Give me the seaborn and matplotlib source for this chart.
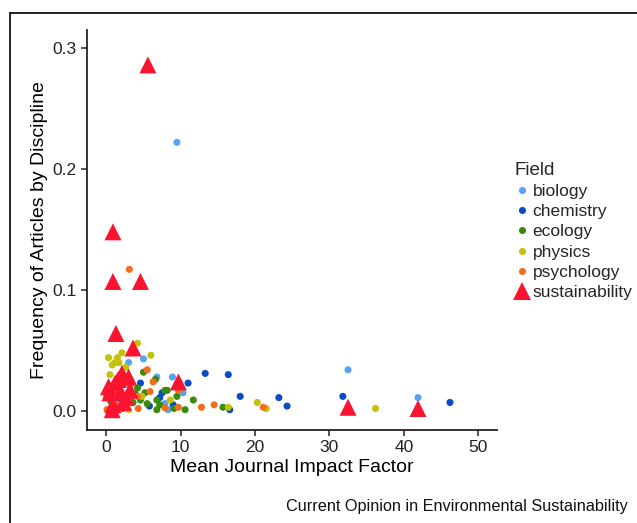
import numpy as np
import pandas as pd
import seaborn as sns
import matplotlib.pyplot as plt
from matplotlib.lines import Line2D

# ============================================================
# DATA
# ============================================================

biology_x = [9.5, 3.0, 5.0, 6.8, 8.9, 10.3, 8.3, 0.3, 32.5, 41.9, 7.9, 2.5, 1.0]
biology_y = [0.222, 0.040, 0.043, 0.028, 0.028, 0.015, 0.001, 0.017, 0.034, 0.011, 0.006, 0.022, 0.008]

chemistry_x = [13.3, 16.4, 18.0, 16.6, 23.2, 24.3, 31.8, 46.2, 4.6, 11.0, 7.5, 7.2, 0.1, 5.8, 2.0, 9.0]
chemistry_y = [0.031, 0.030, 0.012, 0.001, 0.011, 0.004, 0.012, 0.007, 0.023, 0.023, 0.015, 0.011, 0.012, 0.004, 0.010, 0.005]

ecology_x = [15.7, 5.0, 6.6, 7.9, 8.2, 6.8, 9.5, 11.7, 6.8, 10.6, 5.5, 4.6, 3.6, 1.5, 2.8, 3.9, 7.2, 9.1, 5.2, 0.6, 2.2, 4.2]
ecology_y = [0.003, 0.032, 0.026, 0.017, 0.017, 0.009, 0.012, 0.009, 0.001, 0.001, 0.006, 0.009, 0.007, 0.004, 0.010, 0.014, 0.005, 0.002, 0.015, 0.008, 0.002, 0.019]

physics_x = [16.4, 20.3, 21.5, 36.2, 4.2, 6.0, 2.1, 1.5, 0.3, 0.8, 1.2, 1.7, 8.6, 3.0, 0.5, 2.6, 1.0, 4.8]
physics_y = [0.003, 0.007, 0.002, 0.002, 0.056, 0.046, 0.048, 0.044, 0.044, 0.038, 0.040, 0.040, 0.009, 0.001, 0.030, 0.036, 0.022, 0.012]

psychology_x = [3.1, 12.8, 14.5, 21.1, 5.5, 6.3, 5.9, 9.7, 9.7, 7.9, 4.3, 0.1, 4.2, 3.2, 1.3, 2.4, 0.6]
psychology_y = [0.117, 0.003, 0.005, 0.003, 0.034, 0.024, 0.016, 0.017, 0.003, 0.0025, 0.002, 0.001, 0.012, 0.021, 0.006, 0.003, 0.018]

sustainability_x = [5.6, 0.9, 0.9, 4.6, 1.3, 3.6, 9.7, 32.5, 41.9, 2.1, 1.2, 3.0, 0.5, 1.9, 3.2, 0.9, 2.3, 0.8, 0.3, 2.7, 1.6]
sustainability_y = [0.286, 0.148, 0.107, 0.107, 0.064, 0.052, 0.024, 0.003, 0.002, 0.031, 0.023, 0.028, 0.015, 0.016, 0.017, 0.005, 0.007, 0.001, 0.020, 0.011, 0.026]

fields = ["biology", "chemistry", "ecology", "physics", "psychology", "sustainability"]
colors = ["#5aa2f2", "#0a4cc2", "#3a8a0c", "#c2c20a", "#f36e1c", "#fb1430"]

series = {
    "biology": (biology_x, biology_y),
    "chemistry": (chemistry_x, chemistry_y),
    "ecology": (ecology_x, ecology_y),
    "physics": (physics_x, physics_y),
    "psychology": (psychology_x, psychology_y),
    "sustainability": (sustainability_x, sustainability_y),
}

# long table, sustainability last so the triangles sit on top
frames = []
for f in fields:
    xs, ys = series[f]
    frames.append(pd.DataFrame({"impact": xs, "freq": ys, "Field": f}))
df = pd.concat(frames, ignore_index=True)

# ============================================================
# PLOT
# ============================================================

sns.set_theme(style="ticks")
plt.rcParams["font.family"] = ["Liberation Sans", "DejaVu Sans"]

fig = plt.figure(figsize=(6.37, 5.23), dpi=100)
ax = fig.add_axes([0.137, 0.178, 0.643, 0.765])

markers = {f: "o" for f in fields}
markers["sustainability"] = "^"
sizes = {f: 26 for f in fields}
sizes["sustainability"] = 150

sns.scatterplot(data=df, x="impact", y="freq", hue="Field", style="Field",
                size="Field", hue_order=fields, style_order=fields,
                size_order=fields, palette=dict(zip(fields, colors)),
                markers=markers, sizes=sizes, linewidth=0, alpha=1, ax=ax)

ax.set_xlim(-2.55, 52.5)
ax.set_ylim(-0.0157, 0.315)
ax.set_xticks([0, 10, 20, 30, 40, 50])
ax.set_yticks([0.0, 0.1, 0.2, 0.3])
ax.set_yticklabels(["0.0", "0.1", "0.2", "0.3"])
ax.set_xlabel("Mean Journal Impact Factor", fontsize=14, color="black", labelpad=3)
ax.set_ylabel("Frequency of Articles by Discipline", fontsize=14, color="black", labelpad=3)
ax.tick_params(labelsize=12.5, colors="#222222", length=4, width=1.1)
for s in ["left", "bottom"]:
    ax.spines[s].set_linewidth(1.3)
    ax.spines[s].set_color("#222222")
sns.despine(ax=ax)

leg = ax.legend(loc="upper left", bbox_to_anchor=(1.043, 0.67), frameon=False,
                title="Field", fontsize=12.5, title_fontsize=13.5,
                handlelength=0.9, handletextpad=0.15, labelspacing=0.29,
                borderaxespad=0, borderpad=0)
leg._legend_box.align = "left"

# outer frame lines (top and left) and caption
fig.add_artist(Line2D([10 / 637, 1], [1 - 13 / 523, 1 - 13 / 523], color="black", lw=1.2))
fig.add_artist(Line2D([10 / 637, 10 / 637], [0, 1 - 13 / 523], color="black", lw=1.2))
fig.text(628 / 637, 1 - 507 / 523, "Current Opinion in Environmental Sustainability",
         ha="right", va="center", fontsize=11.7, color="#111111")

fig.savefig("out.png", dpi=100)
